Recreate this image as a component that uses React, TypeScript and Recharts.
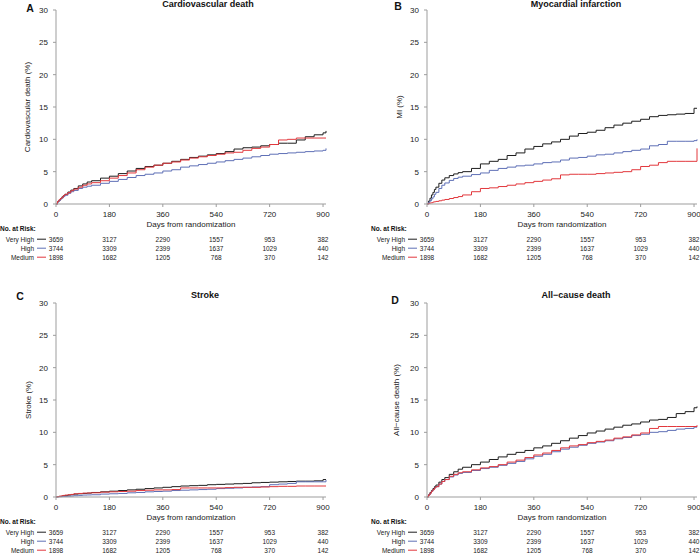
import { Line, LineChart, XAxis, YAxis } from "recharts";

// follow-up grid (days) shared by every curve
const days = [0, 5, 10, 15, 20, 25, 30, 40, 50, 60, 75, 90, 105, 120, 150, 180, 210, 240, 270, 300, 330, 360, 390, 420, 450, 480, 510, 540, 570, 600, 630, 660, 690, 720, 750, 780, 810, 840, 870, 900, 910];
const dayTicks = [0, 180, 360, 540, 720, 900];
const pctTicks = [0, 5, 10, 15, 20, 25, 30];

// cumulative incidence (%)
const cvVeryHigh = [0, 0.35, 0.6, 0.85, 1.1, 1.3, 1.5, 1.85, 2.15, 2.4, 2.8, 3.1, 3.4, 3.6, 4.0, 4.3, 4.7, 5.1, 5.5, 5.8, 6.0, 6.3, 6.6, 6.9, 7.2, 7.4, 7.6, 7.8, 8.1, 8.5, 8.7, 8.8, 9.0, 9.2, 9.4, 9.4, 9.9, 10.4, 10.7, 11.0, 11.3];
const cvHigh = [0, 0.3, 0.55, 0.75, 0.95, 1.15, 1.35, 1.65, 1.9, 2.1, 2.4, 2.6, 2.75, 2.9, 3.2, 3.5, 3.8, 4.1, 4.4, 4.6, 4.8, 5.1, 5.3, 5.7, 5.9, 6.1, 6.3, 6.5, 6.7, 6.9, 7.1, 7.3, 7.5, 7.7, 7.8, 7.9, 8.0, 8.1, 8.2, 8.3, 8.6];
const cvMedium = [0, 0.4, 0.65, 0.85, 1.05, 1.3, 1.5, 1.75, 2.05, 2.3, 2.6, 2.9, 3.1, 3.3, 3.6, 4.0, 4.4, 4.8, 5.3, 5.7, 6.0, 6.3, 6.5, 6.8, 7.1, 7.3, 7.5, 7.7, 7.9, 8.0, 8.3, 8.6, 8.8, 9.2, 9.9, 10.0, 10.2, 10.2, 10.2, 10.2, 10.2];

const miVeryHigh = [0, 0.45, 0.9, 1.4, 1.8, 2.25, 2.6, 3.2, 3.7, 4.05, 4.4, 4.65, 4.85, 5.0, 5.5, 6.2, 6.6, 6.9, 7.5, 7.9, 8.5, 8.9, 9.3, 9.6, 10.0, 10.5, 10.9, 11.1, 11.4, 11.8, 12.2, 12.5, 12.8, 13.1, 13.5, 13.7, 13.8, 13.9, 14.0, 14.8, 14.8];
const miHigh = [0, 0.25, 0.5, 0.8, 1.1, 1.5, 1.8, 2.4, 2.9, 3.25, 3.65, 3.95, 4.15, 4.3, 4.55, 4.8, 5.2, 5.5, 5.7, 5.9, 6.0, 6.2, 6.4, 6.5, 6.8, 7.1, 7.2, 7.4, 7.6, 7.7, 7.9, 8.1, 8.3, 8.5, 9.0, 9.2, 9.7, 9.7, 9.7, 9.8, 10.0];
const miMedium = [0, 0.1, 0.15, 0.2, 0.3, 0.35, 0.4, 0.5, 0.6, 0.7, 0.85, 1.0, 1.15, 1.4, 1.9, 2.4, 2.5, 2.7, 2.9, 3.1, 3.3, 3.5, 3.7, 3.9, 4.5, 4.6, 4.6, 4.6, 4.7, 4.8, 4.9, 5.0, 5.3, 5.8, 6.0, 6.4, 6.6, 6.6, 6.6, 6.6, 8.6];

const strokeVeryHigh = [0, 0.05, 0.1, 0.1, 0.15, 0.2, 0.2, 0.3, 0.35, 0.45, 0.5, 0.55, 0.6, 0.7, 0.8, 0.9, 1.0, 1.1, 1.2, 1.3, 1.4, 1.5, 1.6, 1.7, 1.75, 1.8, 1.9, 1.95, 2.0, 2.05, 2.1, 2.2, 2.25, 2.3, 2.35, 2.4, 2.45, 2.45, 2.5, 2.7, 2.7];
const strokeHigh = [0, 0.02, 0.04, 0.05, 0.07, 0.08, 0.1, 0.12, 0.15, 0.2, 0.25, 0.3, 0.32, 0.35, 0.45, 0.5, 0.55, 0.65, 0.7, 0.8, 0.85, 0.9, 1.0, 1.05, 1.1, 1.15, 1.2, 1.3, 1.35, 1.4, 1.5, 1.55, 1.6, 1.9, 2.0, 2.1, 2.35, 2.35, 2.35, 2.35, 2.65];
const strokeMedium = [0, 0.05, 0.1, 0.15, 0.2, 0.25, 0.3, 0.35, 0.4, 0.5, 0.55, 0.6, 0.62, 0.65, 0.75, 0.8, 0.85, 0.9, 1.0, 1.05, 1.1, 1.1, 1.15, 1.4, 1.4, 1.4, 1.4, 1.4, 1.45, 1.5, 1.5, 1.5, 1.55, 1.6, 1.65, 1.65, 1.7, 1.7, 1.7, 1.7, 1.7];

const acdVeryHigh = [0, 0.35, 0.7, 1.0, 1.3, 1.6, 1.85, 2.3, 2.7, 3.0, 3.5, 3.9, 4.3, 4.6, 5.0, 5.4, 5.8, 6.2, 6.6, 6.9, 7.2, 7.6, 7.9, 8.3, 8.7, 9.1, 9.5, 9.9, 10.2, 10.5, 10.8, 11.1, 11.3, 11.6, 11.9, 12.0, 12.3, 12.9, 13.2, 13.8, 14.0];
const acdHigh = [0, 0.3, 0.6, 0.9, 1.15, 1.4, 1.6, 2.0, 2.4, 2.7, 3.1, 3.4, 3.65, 3.8, 4.1, 4.4, 4.6, 4.9, 5.2, 5.5, 5.9, 6.3, 6.6, 7.0, 7.4, 7.7, 8.0, 8.3, 8.5, 8.7, 9.0, 9.2, 9.5, 9.7, 10.0, 10.1, 10.3, 10.5, 10.6, 10.8, 10.9];
const acdMedium = [0, 0.3, 0.6, 0.9, 1.15, 1.4, 1.6, 2.0, 2.4, 2.7, 3.2, 3.5, 3.75, 3.9, 4.2, 4.5, 4.7, 5.0, 5.4, 5.7, 6.1, 6.5, 6.8, 7.2, 7.6, 7.9, 8.1, 8.4, 8.6, 8.8, 9.1, 9.3, 9.6, 9.9, 10.6, 10.9, 10.9, 10.9, 10.9, 10.9, 11.1];

// numbers at risk at 0, 180, ... 900 days
const riskVeryHigh = [3659, 3127, 2290, 1557, 953, 382];
const riskHigh = [3744, 3309, 2399, 1637, 1029, 440];
const riskMedium = [1898, 1682, 1205, 768, 370, 142];

const groups = [
  { key: "veryHigh", label: "Very High", color: "#1e1e1e", risk: riskVeryHigh },
  { key: "high", label: "High", color: "#5f70b6", risk: riskHigh },
  { key: "medium", label: "Medium", color: "#e2383d", risk: riskMedium },
];

const axisGrey = "#9d9d9d";
const ink = "#222";

function RiskTick(props: any) {
  const { x, y, payload } = props;
  const i = dayTicks.indexOf(payload.value);
  return (
    <g>
      <text x={x} y={y + 7.5} textAnchor="middle" fontSize={8} fill={ink}>
        {payload.value}
      </text>
      {i === 0 && (
        <text x={x - 56} y={y + 21.7} fontSize={6.5} fontWeight="bold" fill="#111">
          No. at Risk:
        </text>
      )}
      {groups.map((g, r) => {
        const yy = y + 32.5 + r * 9;
        return (
          <g key={g.key}>
            {i === 0 && (
              <>
                <text x={x - 22} y={yy} textAnchor="end" fontSize={6.5} fill={ink}>
                  {g.label}
                </text>
                <line x1={x - 19} x2={x - 10} y1={yy - 2.3} y2={yy - 2.3} stroke={g.color} strokeWidth={1} />
              </>
            )}
            <text x={x} y={yy} textAnchor="middle" fontSize={6.5} fill={ink}>
              {g.risk[i]}
            </text>
          </g>
        );
      })}
    </g>
  );
}

interface PanelProps {
  left: number;
  top: number;
  yWidth: number;
  yLabelX: number;
  yLabel: string;
  title: string;
  titleX: number;
  titleY: number;
  letter: string;
  letterX: number;
  letterY: number;
  veryHigh: number[];
  high: number[];
  medium: number[];
}

function Panel(p: PanelProps) {
  const rows = days.map((d, i) => ({
    day: d,
    veryHigh: p.veryHigh[i],
    high: p.high[i],
    medium: p.medium[i],
  }));
  const center = { position: "absolute" as const, transform: "translate(-50%, -50%)", lineHeight: 1, whiteSpace: "nowrap" as const };
  return (
    <>
      <div style={{ position: "absolute", left: p.left, top: p.top }}>
        <LineChart width={350} height={262} data={rows} margin={{ top: 10, right: 350 - p.yWidth - 270, left: 0, bottom: 0 }}>
          <XAxis
            dataKey="day"
            type="number"
            domain={[0, 910]}
            ticks={dayTicks}
            interval={0}
            height={58}
            stroke={axisGrey}
            tickSize={3}
            tickMargin={2}
            tick={(t: any) => <RiskTick {...t} />}
            label={{ value: "Days from randomization", position: "insideTop", offset: 17, fontSize: 8, fill: ink }}
          />
          <YAxis
            type="number"
            domain={[0, 30]}
            ticks={pctTicks}
            interval={0}
            width={p.yWidth}
            stroke={axisGrey}
            tickSize={3}
            tickMargin={5}
            tick={{ fontSize: 8, fill: ink }}
            label={{
              value: p.yLabel,
              angle: -90,
              position: "insideLeft",
              offset: p.yLabelX,
              fontSize: 8,
              fill: ink,
              style: { textAnchor: "middle" },
            }}
          />
          {groups.map((g) => (
            <Line
              key={g.key}
              dataKey={g.key}
              type="stepAfter"
              stroke={g.color}
              strokeWidth={1}
              dot={false}
              activeDot={false}
              isAnimationActive={false}
            />
          ))}
        </LineChart>
      </div>
      <div style={{ ...center, left: p.titleX, top: p.titleY, fontSize: 9, fontWeight: "bold" }}>{p.title}</div>
      <div style={{ ...center, left: p.letterX, top: p.letterY, fontSize: 10.5, fontWeight: "bold" }}>{p.letter}</div>
    </>
  );
}

export default function App() {
  return (
    <div
      style={{
        position: "absolute",
        left: 0,
        top: 0,
        width: 700,
        height: 553,
        overflow: "hidden",
        background: "#fff",
        color: "#111",
        fontFamily: '"Liberation Sans", Arial, Helvetica, sans-serif',
      }}
    >
      <Panel left={0} top={0} yWidth={56} yLabelX={27} yLabel="Cardiovascular death (%)" title="Cardiovascular death" titleX={208} titleY={4} letter="A" letterX={30} letterY={8} veryHigh={cvVeryHigh} high={cvHigh} medium={cvMedium} />
      <Panel left={350} top={0} yWidth={77} yLabelX={49} yLabel="MI (%)" title="Myocardial infarction" titleX={576} titleY={4} letter="B" letterX={398} letterY={6} veryHigh={miVeryHigh} high={miHigh} medium={miMedium} />
      <Panel left={0} top={293} yWidth={56} yLabelX={28} yLabel="Stroke (%)" title="Stroke" titleX={205} titleY={295} letter="C" letterX={20} letterY={296} veryHigh={strokeVeryHigh} high={strokeHigh} medium={strokeMedium} />
      <Panel left={350} top={293} yWidth={77} yLabelX={46} yLabel="All−cause death (%)" title="All−cause death" titleX={576} titleY={295} letter="D" letterX={395} letterY={300} veryHigh={acdVeryHigh} high={acdHigh} medium={acdMedium} />
    </div>
  );
}
